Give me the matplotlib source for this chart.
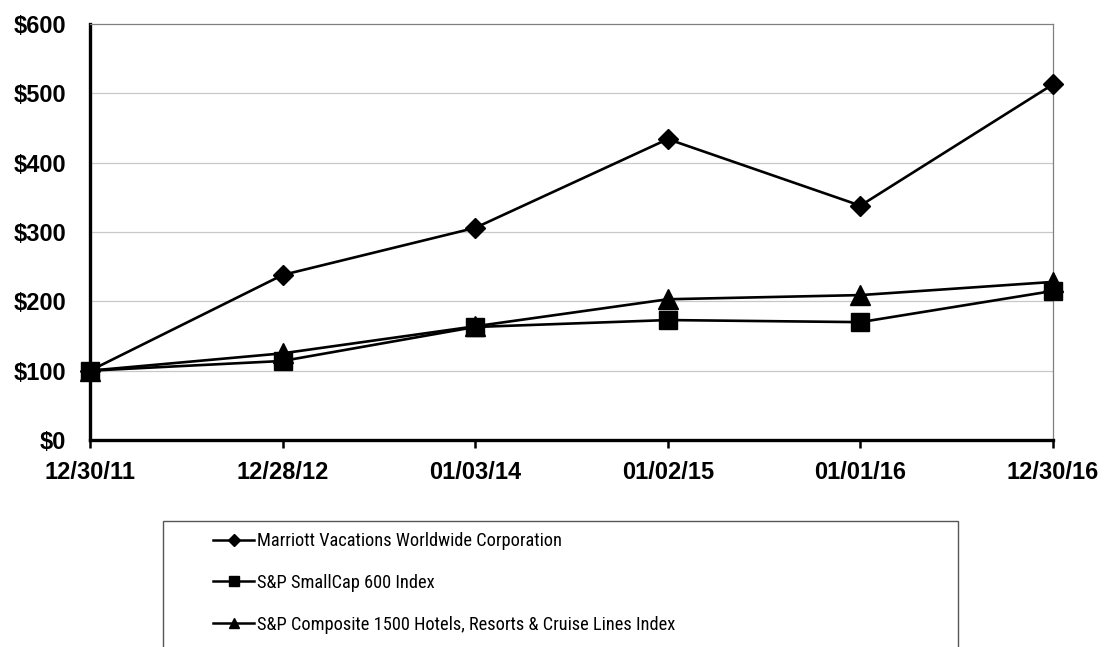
import matplotlib
matplotlib.use("Agg")
import matplotlib.pyplot as plt
from matplotlib.lines import Line2D
from matplotlib.patches import Rectangle
from matplotlib import font_manager as fm

dates = ["12/30/11", "12/28/12", "01/03/14", "01/02/15", "01/01/16", "12/30/16"]
marriott = [100, 238, 306, 434, 338, 513]
smallcap = [100, 114, 163, 173, 170, 215]
hotels = [100, 125, 164, 203, 209, 228]
series_names = ["Marriott Vacations Worldwide Corporation",
                "S&P SmallCap 600 Index",
                "S&P Composite 1500 Hotels, Resorts & Cruise Lines Index"]
y_ticks = [0, 100, 200, 300, 400, 500, 600]
y_labels = ["$0", "$100", "$200", "$300", "$400", "$500", "$600"]


def find_narrow():
    prefs = ["Liberation Sans Narrow", "Arial Narrow", "Roboto Condensed",
             "Open Sans Condensed", "Noto Sans Condensed", "DejaVu Sans Condensed"]
    cands = []
    for f in fm.fontManager.ttflist:
        st = f.stretch
        cond = ("Narrow" in f.name or "Condensed" in f.name or
                st in ("condensed", "semi-condensed", "extra-condensed") or
                (isinstance(st, (int, float)) and st < 500))
        w = f.weight
        normal_w = w in (400, "normal", "regular", "book")
        if cond and f.style == "normal" and normal_w:
            cands.append(f)
    for p in prefs:
        for f in cands:
            if f.name == p or (p.endswith("Condensed") and f.name == p.replace(" Condensed", "")):
                return f.fname
    return cands[0].fname if cands else None


W, H = 1105, 647
fig = plt.figure(figsize=(W / 100, H / 100), dpi=100)
ax = fig.add_axes([90 / W, 1 - 440 / H, (1053 - 90) / W, (440 - 24) / H])

x = list(range(len(dates)))
ax.plot(x, hotels, color="black", lw=1.9, marker="^", ms=14, zorder=3, clip_on=False)
ax.plot(x, smallcap, color="black", lw=1.9, marker="s", ms=13.5, zorder=4, clip_on=False)
ax.plot(x, marriott, color="black", lw=1.9, marker="D", ms=10.5, zorder=5, clip_on=False)

ax.set_xlim(0, len(dates) - 1)
ax.set_ylim(0, 600)
ax.set_yticks(y_ticks)
ax.set_yticklabels(y_labels, fontsize=17, fontweight="bold", family="Liberation Sans")
ax.set_xticks(x)
ax.set_xticklabels(dates, fontsize=17, fontweight="bold", family="Liberation Sans")
ax.tick_params(axis="y", length=0, pad=17)
ax.tick_params(axis="x", length=6, width=1.8, pad=9, direction="out")
for t in y_ticks[1:-1]:
    ax.axhline(t, color="#c8c8c8", lw=0.9, zorder=1)
for s in ["left", "bottom"]:
    ax.spines[s].set_linewidth(2.4)
    ax.spines[s].set_color("black")
for s in ["top", "right"]:
    ax.spines[s].set_linewidth(0.9)
    ax.spines[s].set_color("#808080")

# legend font: narrow face if available, sized near the reference width
nf = find_narrow()
size = 13.5
if nf:
    prop = fm.FontProperties(fname=nf, size=size)
else:
    prop = fm.FontProperties(family="Liberation Sans", size=size)
renderer = fig.canvas.get_renderer()
tmp = fig.text(0, 0, series_names[0], fontproperties=prop)
wpx = tmp.get_window_extent(renderer).width
tmp.remove()
if wpx > 305:
    size = max(size * 305 / wpx, 12.0)
    prop = prop.copy()
    prop.set_size(size)

# legend box (extends past bottom of figure)
fig.patches.append(Rectangle((163 / W, -0.05), (958 - 163) / W, (1 - 521 / H) + 0.05,
                             transform=fig.transFigure, fill=False,
                             edgecolor="#555555", lw=1.0))
handles = [Line2D([], [], color="black", lw=1.8, marker="D", ms=6),
           Line2D([], [], color="black", lw=1.8, marker="s", ms=6.5),
           Line2D([], [], color="black", lw=1.8, marker="^", ms=7)]
fsp = size * 100 / 72
row_h = 41
ls = row_h / fsp - 0.94
fig.legend(handles, series_names, loc="upper left",
           bbox_to_anchor=(204 / W, 1 - 523 / H), frameon=False,
           prop=prop, handlelength=41 / fsp, handletextpad=0.15,
           labelspacing=ls, borderpad=0, borderaxespad=0.5)

fig.savefig("out.png", dpi=100)
